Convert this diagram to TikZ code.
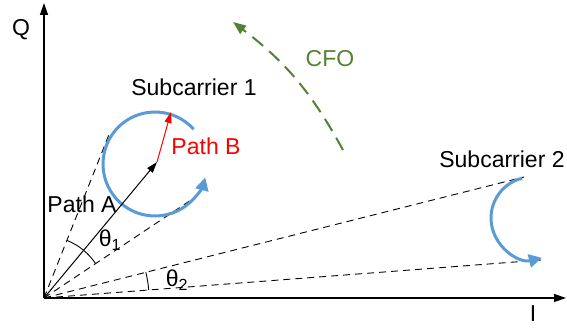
\documentclass[tikz,border=0pt]{standalone}
\usepackage{fontspec}
\setmainfont{Liberation Sans}
\usetikzlibrary{arrows.meta}
\definecolor{cblue}{HTML}{5B9BD5}
\definecolor{cgreen}{HTML}{548235}
\definecolor{cred}{HTML}{FF0000}
\begin{document}
\begin{tikzpicture}[x=1pt,y=1pt,
  lbl/.style={font=\fontsize{23}{27}\selectfont, inner sep=0pt},
  axis/.style={line width=1.3pt, -{Triangle[length=12pt,width=8pt]}},
  vec/.style={line width=1pt, -{Triangle[length=11pt,width=7pt]}},
  guide/.style={line width=0.9pt, dash pattern=on 7pt off 5pt},
  spin/.style={cblue, line width=3pt, -{Triangle[length=13pt,width=13pt]}},
  angarc/.style={line width=0.9pt}]
\useasboundingbox (0,0) rectangle (567,328);
% points
\coordinate (O) at (44,30);
\coordinate (Qend) at (44,325);
\coordinate (Iend) at (566,30);
\coordinate (A) at (157,166);
\coordinate (B) at (171,216);
\coordinate (d1) at (110,196);
\coordinate (d2) at (197,132);
\coordinate (d3) at (524,151);
\coordinate (d4) at (541,68);
\coordinate (c1) at (155,164);
\coordinate (c2) at (532,110);
\coordinate (cfoS) at (343,178);
\coordinate (cfoE) at (233,306);
% axes
\draw[axis] (O) -- (Qend);
\draw[axis] (O) -- (Iend);
\node[lbl] (Q) at (21,298) {Q};
\node[lbl] (I) at (533,14) {I};
% dashed guides
\draw[guide] (O) -- (d1);
\draw[guide] (O) -- (d2);
\draw[guide] (O) -- (d3);
\draw[guide] (O) -- (d4);
% angle arcs
\draw[angarc] (O) ++(33.7:62) arc[start angle=33.7, end angle=68.3, radius=62];
\draw[angarc] (O) ++(4.4:105) arc[start angle=4.4, end angle=14.2, radius=105];
\node[lbl] (t1) at (110,88) {θ\textsubscript{1}};
\node[lbl] (t2) at (177,48) {θ\textsubscript{2}};
% blue rotations
\draw[spin] (c1) ++(42:52) arc[start angle=42, end angle=345, radius=52];
\draw[spin] (c2) ++(104:41) arc[start angle=104, end angle=284, radius=41];
% path vectors
\draw[vec] (O) -- (A);
\draw[vec, cred] (A) -- (B);
\node[lbl] (pa) at (82,124) {Path A};
\node[lbl, text=cred] (pb) at (206,182) {Path B};
\node[lbl] (s1) at (194,241) {Subcarrier 1};
\node[lbl] (s2) at (502,169) {Subcarrier 2};
% CFO
\draw[cgreen, line width=2pt, dash pattern=on 14pt off 8pt, -{Triangle[length=13pt,width=10pt]}] (cfoS) to[bend right=12] (cfoE);
\node[lbl, text=cgreen] (cfo) at (330,269) {CFO};
\end{tikzpicture}
\end{document}
